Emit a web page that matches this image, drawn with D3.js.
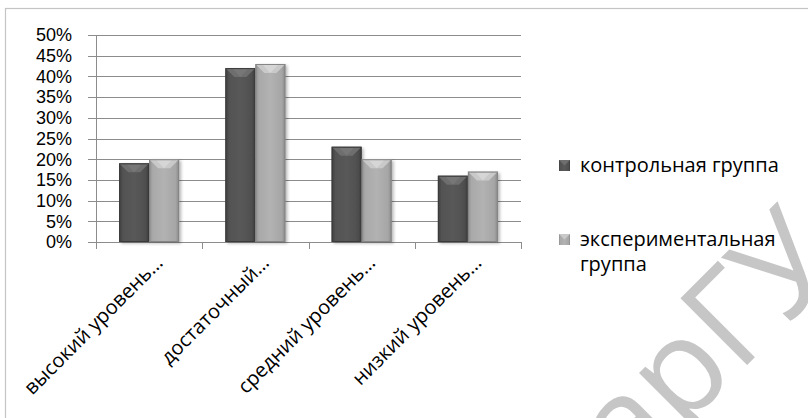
<!DOCTYPE html>
<html>
<head>
<meta charset="utf-8">
<script src="https://cdn.jsdelivr.net/npm/d3@7"></script>
<style>
  html, body { margin: 0; padding: 0; background: #fff; }
  svg { display: block; }
</style>
</head>
<body>
<svg id="chart" width="808" height="418"></svg>
<script>
// Уровни сформированности (категории оси X)
const categories = ["высокий уровень…", "достаточный…", "средний уровень…", "низкий уровень…"];
// Названия рядов
const seriesNames = ["контрольная группа", "экспериментальная группа"];
// Доли, %
const controlValues = [19, 42, 23, 16];
const experimentalValues = [20, 43, 20, 17];
// Деления оси Y, %
const yTicks = [0, 5, 10, 15, 20, 25, 30, 35, 40, 45, 50];

const svg = d3.select("#chart");
const font = "'Open Sans', 'Noto Sans', sans-serif";
const tickFont = "'Liberation Sans', Arial, sans-serif";

const plot = { left: 96, right: 521, top: 35, bottom: 242 };

// Рамка диаграммы
svg.append("rect")
  .attr("x", 5.5).attr("y", 8.5)
  .attr("width", 840).attr("height", 440)
  .attr("fill", "#fff").attr("stroke", "#c4c4c4").attr("stroke-width", 1.2);

const defs = svg.append("defs");

function hGrad(id, stops) {
  const g = defs.append("linearGradient").attr("id", id)
    .attr("x1", "0%").attr("x2", "100%").attr("y1", "0%").attr("y2", "0%");
  stops.forEach(([o, c]) => g.append("stop").attr("offset", o).attr("stop-color", c));
}
hGrad("gDark", [["0%", "#3e3e3e"], ["12%", "#525252"], ["50%", "#595959"], ["88%", "#4f4f4f"], ["100%", "#3a3a3a"]]);
hGrad("gLight", [["0%", "#8e8e8e"], ["12%", "#a9a9a9"], ["50%", "#b2b2b2"], ["88%", "#a6a6a6"], ["100%", "#888"]]);

const shadow = defs.append("filter").attr("id", "shadow")
  .attr("x", "-20%").attr("y", "-20%").attr("width", "150%").attr("height", "150%");
shadow.append("feDropShadow").attr("dx", 2).attr("dy", 1.5)
  .attr("stdDeviation", 1.8).attr("flood-color", "#000").attr("flood-opacity", 0.28);

const x = d3.scaleBand().domain(categories).range([plot.left, plot.right]).padding(0);
const x1 = d3.scaleBand().domain([0, 1]).range([0, x.bandwidth()]).paddingInner(0).paddingOuter(0.77);
const y = d3.scaleLinear().domain([0, 50]).range([plot.bottom, plot.top]);

// Водяной знак (под текстом легенды)
const wm = svg.append("text")
  .attr("font-family", font).attr("font-size", 132).attr("fill", "#c6c6c6")
  .text("БарГУ");
const off = wm.node().getSubStringLength(0, 3);
const ang = -45;
const rad = ang * Math.PI / 180;
const gx = 738 - off * Math.cos(rad), gy = 374 - off * Math.sin(rad);
wm.attr("transform", `translate(${gx},${gy}) rotate(${ang})`);

// Сетка
svg.append("g").selectAll("line").data(yTicks).join("line")
  .attr("x1", plot.left - 8).attr("x2", plot.right)
  .attr("y1", d => Math.round(y(d)) + 0.5).attr("y2", d => Math.round(y(d)) + 0.5)
  .attr("stroke", "#8c8c8c").attr("stroke-width", 1);

// Ось Y
svg.append("line")
  .attr("x1", plot.left + 0.5).attr("x2", plot.left + 0.5)
  .attr("y1", plot.top).attr("y2", plot.bottom + 0.5)
  .attr("stroke", "#8c8c8c");

// Деления оси X
const xTickPos = categories.map(c => x(c)).concat([plot.right]);
svg.append("g").selectAll("line").data(xTickPos).join("line")
  .attr("x1", d => Math.round(d) + 0.5).attr("x2", d => Math.round(d) + 0.5)
  .attr("y1", plot.bottom).attr("y2", plot.bottom + 7)
  .attr("stroke", "#8c8c8c");

// Подписи оси Y
svg.append("g").selectAll("text").data(yTicks).join("text")
  .attr("x", 72).attr("y", d => y(d))
  .attr("dy", "0.35em")
  .attr("text-anchor", "end")
  .attr("font-family", tickFont).attr("font-size", 18).attr("fill", "#000")
  .text(d => d + "%");

// Столбцы
const series = [
  { name: seriesNames[0], values: controlValues, fill: "url(#gDark)", top: "#6e6e6e", tip: "#7a7a7a", edge: "#3a3a3a" },
  { name: seriesNames[1], values: experimentalValues, fill: "url(#gLight)", top: "#c9c9c9", tip: "#dcdcdc", edge: "#858585" }
];

const bars = [];
series.forEach((s, si) => {
  s.values.forEach((v, ci) => {
    bars.push({ si, ci, v, s });
  });
});

const barG = svg.append("g");
barG.selectAll("g.bar").data(bars).join("g").attr("class", "bar").each(function (d) {
  const g = d3.select(this);
  const x0 = x(categories[d.ci]) + x1(d.si);
  const w = x1.bandwidth();
  const y0 = y(d.v);
  const h = y(0) - y0;
  const b = Math.min(9, w * 0.3);
  g.append("rect").attr("x", x0).attr("y", y0).attr("width", w).attr("height", h)
    .attr("fill", d.s.fill).attr("filter", "url(#shadow)");
  // верхняя грань фаски
  g.append("path")
    .attr("d", `M${x0},${y0}L${x0 + w},${y0}L${x0 + w - b},${y0 + b}L${x0 + b},${y0 + b}Z`)
    .attr("fill", d.s.top);
  g.append("path")
    .attr("d", `M${x0 + w * 0.25},${y0 + 1}L${x0 + w * 0.75},${y0 + 1}L${x0 + w / 2},${y0 + b}Z`)
    .attr("fill", d.s.tip).attr("opacity", 0.7);
  g.append("rect").attr("x", x0 + 0.5).attr("y", y0 + 0.5).attr("width", w - 1).attr("height", h - 1)
    .attr("fill", "none").attr("stroke", d.s.edge).attr("stroke-width", 1);
});

// Подписи категорий
svg.append("g").selectAll("text").data(categories).join("text")
  .attr("transform", d => `translate(${x(d) + x.bandwidth() / 2 + 15},${264}) rotate(-45)`)
  .attr("text-anchor", "end")
  .attr("font-family", font).attr("font-size", 20).attr("fill", "#000")
  .text(d => d);

// Легенда
const legend = [
  { name: seriesNames[0], y: 172, fill: "url(#gDark)", top: "#6e6e6e" },
  { name: seriesNames[1], y: 246, fill: "url(#gLight)", top: "#c9c9c9" }
];
const lg = svg.append("g");
legend.forEach(item => {
  lg.append("rect").attr("x", 559).attr("y", item.y - 12).attr("width", 11).attr("height", 11)
    .attr("fill", item.fill);
  lg.append("path")
    .attr("d", `M559,${item.y - 12}L570,${item.y - 12}L564.5,${item.y - 6.5}Z`)
    .attr("fill", item.top);
  const t = lg.append("text").attr("x", 580).attr("y", item.y)
    .attr("font-family", font).attr("font-size", 20).attr("fill", "#000");
  // перенос по словам
  const words = item.name.split(" ");
  let line = [], tspan = t.append("tspan").attr("x", 580).attr("dy", 0);
  words.forEach(wd => {
    line.push(wd);
    tspan.text(line.join(" "));
    if (tspan.node().getComputedTextLength() > 222 && line.length > 1) {
      line.pop();
      tspan.text(line.join(" "));
      line = [wd];
      tspan = t.append("tspan").attr("x", 580).attr("dy", 25).text(wd);
    }
  });
});
</script>
</body>
</html>
